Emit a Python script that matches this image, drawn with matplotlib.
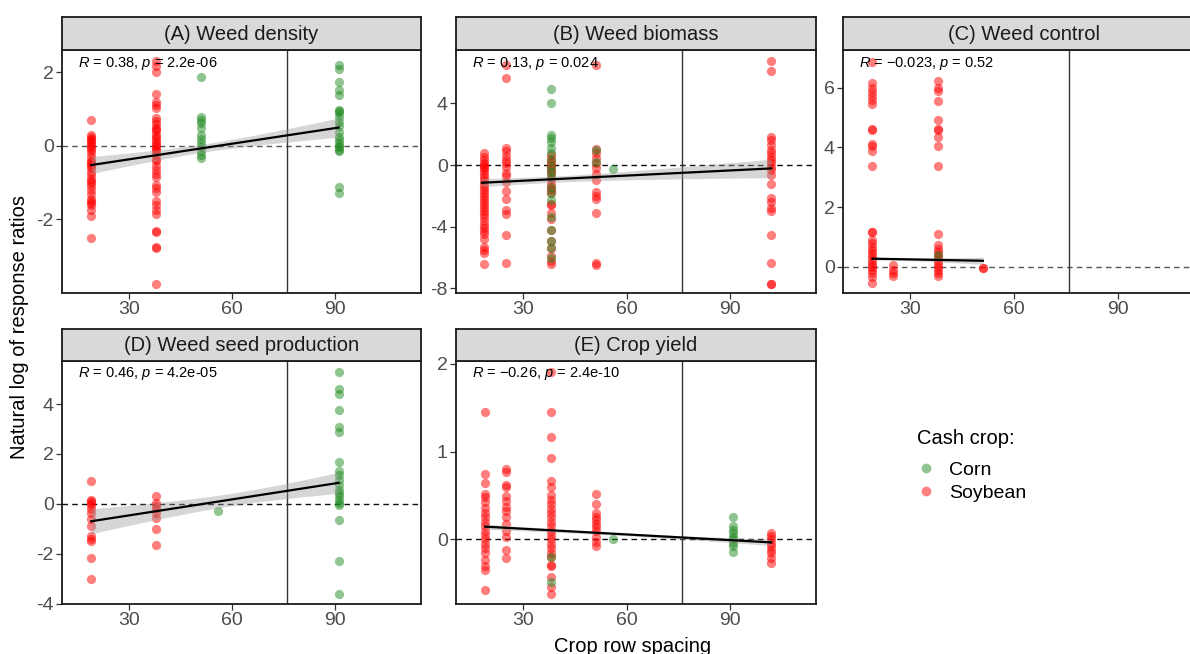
import numpy as np
import matplotlib
matplotlib.use('Agg')
import matplotlib.pyplot as plt
from matplotlib.lines import Line2D

plt.rcParams['font.family'] = 'Liberation Sans'
plt.rcParams['mathtext.fontset'] = 'custom'
plt.rcParams['mathtext.it'] = 'Liberation Sans:italic'
plt.rcParams['mathtext.rm'] = 'Liberation Sans'
plt.rcParams['axes.unicode_minus'] = False

# ---- values: {row spacing (cm): [ln response ratios]} ----
# (A) weed density
dens_soy = {
    19: [0.71, 0.3, 0.25, 0.2, 0.15, 0.1, 0.05, 0.0, -0.05, -0.1, -0.2, -0.3, -0.4, -0.45,
         -0.5, -0.55, -0.6, -0.7, -0.8, -0.9, -0.95, -1.0, -1.1, -1.2, -1.3, -1.45, -1.5,
         -1.55, -1.6, -1.75, -1.9, -2.5],
    38: [2.3, 2.17, 2.0, 1.4, 1.2, 1.12, 1.03, 0.75, 0.67, 0.6, 0.5, 0.45, 0.4, 0.3, 0.25,
         0.2, 0.1, 0.05, 0.0, -0.05, -0.1, -0.15, -0.25, -0.35, -0.4, -0.55, -0.65, -0.75,
         -0.85, -1.05, -1.15, -1.25, -1.5, -1.6, -1.75, -1.85, -2.32, -2.35, -2.75, -2.78, -3.75],
}
dens_corn = {
    51: [1.87, 0.8, 0.7, 0.62, 0.48, 0.3, 0.2, 0.07, -0.02, -0.13, -0.25, -0.34],
    91: [2.2, 2.08, 1.75, 1.53, 1.39, 0.98, 0.95, 0.9, 0.8, 0.66, 0.53, 0.39, 0.25, 0.16,
         0.07, 0.0, -0.02, -0.1, -0.15, -1.13, -1.29],
}
# (B) weed biomass
bio_soy = {
    18.5: [0.75, 0.5, 0.3, 0.1, 0.0, -0.1, -0.2, -0.4, -0.6, -0.8, -1.0, -1.2, -1.4, -1.6,
           -1.8, -2.0, -2.2, -2.4, -2.6, -2.8, -3.0, -3.2, -3.4, -3.6, -3.9, -4.1, -4.3,
           -4.5, -4.8, -5.3, -5.5, -5.7, -6.45],
    25: [6.5, 5.66, 1.1, 0.9, 0.6, 0.3, 0.1, -0.1, -0.5, -0.7, -1.1, -1.7, -2.2, -2.9,
         -3.2, -4.55, -6.38],
    38: [0.65, 0.4, 0.2, 0.0, -0.2, -0.4, -0.6, -0.9, -1.2, -1.5, -1.6, -1.8, -2.5, -2.6,
         -3.1, -3.5, -4.2, -4.9, -5.4, -5.9, -6.2, -6.4],
    51: [6.48, 1.05, 0.75, 0.45, 0.1, -0.2, -0.55, -0.97, -1.73, -2.0, -2.2, -3.14, -6.38, -6.5],
    102: [6.75, 6.1, 1.84, 1.6, 1.3, 1.0, 0.75, 0.55, 0.3, 0.1, -0.1, -0.3, -0.65, -1.2,
          -2.15, -2.4, -2.8, -2.95, -4.55, -6.35, -7.7, -7.72],
}
bio_corn = {
    38: [4.9, 4.05, 1.95, 1.75, 1.5, 1.1, 0.75, 0.3, -0.1, -0.45, -0.75, -1.4, -1.8, -2.25,
         -3.35, -4.2, -4.9, -5.4, -6.05],
    51: [1.0, 0.2],
    56: [-0.28],
}
# (C) weed control
ctrl_soy = {
    19: [6.86, 6.17, 6.0, 5.85, 5.72, 5.6, 5.45, 4.6, 4.58, 4.1, 4.05, 3.87, 3.37, 1.17,
         1.15, 0.9, 0.78, 0.67, 0.55, 0.45, 0.35, 0.25, 0.15, 0.05, 0.0, -0.1, -0.2, -0.33, -0.56],
    25: [0.05, -0.1, -0.22, -0.3],
    38: [6.22, 6.0, 5.9, 5.56, 4.91, 4.6, 4.58, 4.33, 4.06, 3.37, 1.11, 0.72, 0.6, 0.5,
         0.4, 0.3, 0.2, 0.1, 0.0, -0.1, -0.2, -0.3],
    51: [-0.05, -0.03],
}
ctrl_corn = {38: [0.4]}
# (D) weed seed production
seed_soy = {
    19: [0.91, 0.17, 0.12, 0.05, -0.05, -0.2, -0.36, -0.6, -0.9, -1.3, -1.43, -1.5, -2.16, -3.0],
    38: [0.3, 0.05, -0.1, -0.2, -0.36, -0.55, -1.0, -1.67],
}
seed_corn = {
    56: [-0.27],
    91: [5.3, 4.6, 4.4, 3.76, 3.1, 2.9, 1.67, 1.3, 1.15, 0.97, 0.75, 0.57, 0.45, 0.3, 0.17,
         0.05, -0.03, -0.65, -2.29, -3.6],
}
# (E) crop yield
yld_soy = {
    19: [1.45, 0.74, 0.64, 0.52, 0.48, 0.42, 0.36, 0.3, 0.25, 0.2, 0.15, 0.1, 0.05, 0.0,
         -0.05, -0.1, -0.16, -0.24, -0.3, -0.35, -0.58],
    25: [0.8, 0.77, 0.62, 0.6, 0.49, 0.44, 0.37, 0.32, 0.26, 0.18, 0.1, 0.03, -0.12, -0.21],
    38: [1.91, 1.45, 1.16, 0.93, 0.66, 0.6, 0.5, 0.45, 0.4, 0.35, 0.3, 0.25, 0.2, 0.15, 0.1,
         0.05, 0.0, -0.05, -0.1, -0.15, -0.2, -0.29, -0.3, -0.43, -0.54, -0.62],
    51: [0.52, 0.4, 0.3, 0.26, 0.22, 0.18, 0.14, 0.09, 0.03, -0.03, -0.08],
    102: [0.07, 0.04, 0.0, -0.04, -0.08, -0.12, -0.16, -0.21, -0.27],
}
yld_corn = {
    38: [-0.48, -0.2],
    56: [0.0],
    91: [0.26, 0.15, 0.11, 0.07, 0.03, 0.0, -0.04, -0.08, -0.14],
}

# linear fits: [x start, x end, y start, y end]; CI half widths: [left, narrowest, right]
fits = {
    'A': ([19, 91, -0.52, 0.50], [0.23, 0.11, 0.26]),
    'B': ([18, 102, -1.15, -0.22], [0.27, 0.2, 0.6]),
    'C': ([19, 51, 0.27, 0.20], [0.05, 0.04, 0.12]),
    'D': ([19, 91, -0.70, 0.84], [0.5, 0.25, 0.42]),
    'E': ([19, 102, 0.145, -0.034], [0.03, 0.015, 0.035]),
}
titles = ['(A) Weed density', '(B) Weed biomass', '(C) Weed control',
          '(D) Weed seed production', '(E) Crop yield']
stats = [r'$\it{R}$ = 0.38, $\it{p}$ = 2.2e-06', r'$\it{R}$ = 0.13, $\it{p}$ = 0.024',
         r'$\it{R}$ = ' + '\u22120.023, ' + r'$\it{p}$ = 0.52',
         r'$\it{R}$ = 0.46, $\it{p}$ = 4.2e-05',
         r'$\it{R}$ = ' + '\u22120.26, ' + r'$\it{p}$ = 2.4e-10']
soy_data = [dens_soy, bio_soy, ctrl_soy, seed_soy, yld_soy]
corn_data = [dens_corn, bio_corn, ctrl_corn, seed_corn, yld_corn]
ylims = [(-4.0, 2.61), (-8.3, 7.46), (-0.88, 7.26), (-4.02, 5.73), (-0.735, 2.03)]
yticks = [[-2, 0, 2], [-8, -4, 0, 4], [0, 2, 4, 6], [-4, -2, 0, 2, 4], [0, 1, 2]]

RED = '#FF0000'
GREEN = '#228B22'

W, H = 1190, 654
fig = plt.figure(figsize=(W / 100, H / 100), dpi=100)


def rect(l, r, t, b):
    return [l / W, 1 - b / H, (r - l) / W, (b - t) / H]


cols = [(62, 421), (456, 816), (843, 1204)]
rows = [(17, 50, 293), (329, 361, 604)]
slots = [(0, 0), (0, 1), (0, 2), (1, 0), (1, 1)]

for i, key in enumerate('ABCDE'):
    r, c = slots[i]
    l, rr = cols[c]
    st, pt, pb = rows[r]
    ax = fig.add_axes(rect(l, rr, pt, pb))
    ax.set_xlim(10.5, 115)
    ax.set_ylim(*ylims[i])
    ax.set_xticks([30, 60, 90])
    ax.set_yticks(yticks[i])
    dash_col = '#555555' if key in 'AC' else '#111111'
    ax.axhline(0, color=dash_col, lw=1.0, ls=(0, (4, 3)), zorder=1)
    ax.axvline(76, color='#333333', lw=1.0, zorder=1)

    for grp, colr in ((soy_data[i], RED), (corn_data[i], GREEN)):
        for xv, ys in grp.items():
            ax.scatter(np.full(len(ys), xv), ys, s=44, color=colr, alpha=0.5,
                       linewidths=0, zorder=2)

    (x0, x1, y0, y1), (hl, hm, hr) = fits[key]
    rat = np.sqrt((hl ** 2 - hm ** 2) / (hr ** 2 - hm ** 2))
    xc = (x0 + rat * x1) / (1 + rat)
    k = (hl ** 2 - hm ** 2) / (x0 - xc) ** 2
    xs = np.linspace(x0, x1, 100)
    ys = y0 + (y1 - y0) * (xs - x0) / (x1 - x0)
    hw = np.sqrt(hm ** 2 + k * (xs - xc) ** 2)
    ax.fill_between(xs, ys - hw, ys + hw, color='#999999', alpha=0.4, lw=0, zorder=3)
    ax.plot([x0, x1], [y0, y1], color='black', lw=1.6, zorder=4)

    ax.text(16 / (rr - l), 1 - 13 / (pb - pt), stats[i], transform=ax.transAxes,
            fontsize=10.5, va='center', ha='left', color='black', zorder=5)

    ax.tick_params(direction='out', length=4, width=0.9, color='#333333',
                   labelcolor='#4D4D4D', labelsize=14, pad=2)
    for sp in ax.spines.values():
        sp.set_linewidth(1.3)
        sp.set_color('#1A1A1A')

    sax = fig.add_axes(rect(l, rr, st, pt))
    sax.set_facecolor('#D9D9D9')
    sax.set_xticks([])
    sax.set_yticks([])
    for sp in sax.spines.values():
        sp.set_linewidth(1.3)
        sp.set_color('#1A1A1A')
    sax.text(0.5, 0.47, titles[i], transform=sax.transAxes, ha='center', va='center',
             fontsize=14.5, color='#1A1A1A')

fig.text(20 / W, 1 - 327 / H, 'Natural log of response ratios', rotation=90,
         ha='center', va='center', fontsize=14.5)
fig.text(633 / W, 1 - 652 / H, 'Crop row spacing', ha='center', va='baseline',
         fontsize=14.5)

# legend
fig.text(917 / W, 1 - 438 / H, 'Cash crop:', ha='left', va='center', fontsize=14.5)
handles = [Line2D([], [], marker='o', ls='', color=GREEN, alpha=0.5, markersize=7,
                  markeredgewidth=0),
           Line2D([], [], marker='o', ls='', color=RED, alpha=0.5, markersize=7,
                  markeredgewidth=0)]
fig.legend(handles, ['Corn', 'Soybean'], loc='upper left',
           bbox_to_anchor=(914 / W, 1 - 461 / H), frameon=False, fontsize=14,
           handletextpad=0.6, labelspacing=0.3, handlelength=1.2,
           borderaxespad=0, borderpad=0)

fig.savefig('out.png', dpi=100)
